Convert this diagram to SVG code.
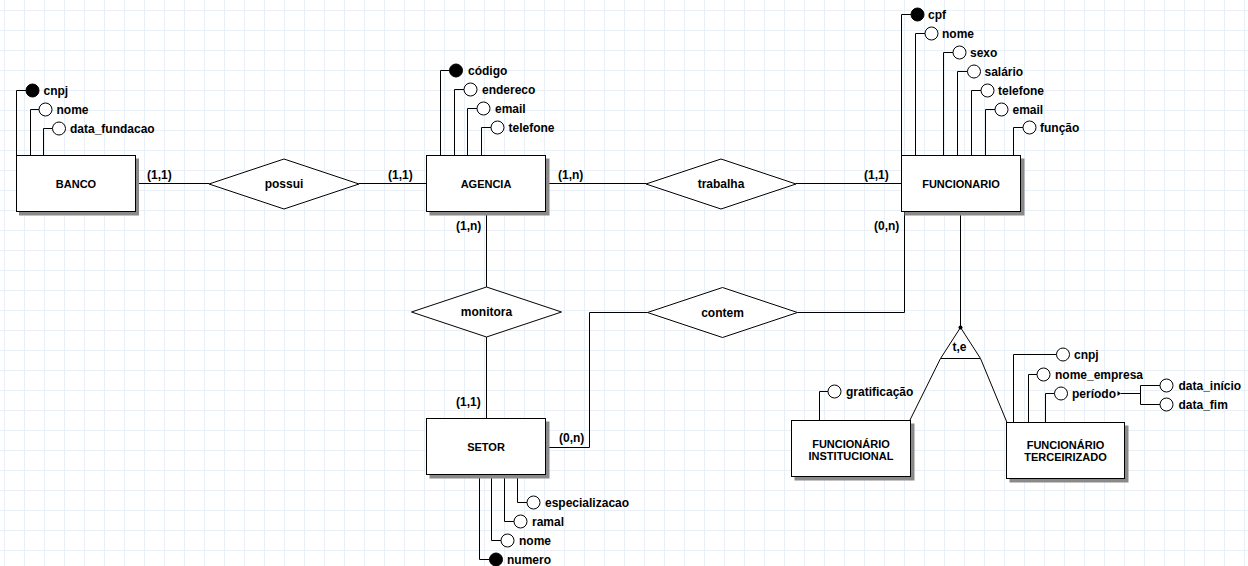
<svg xmlns="http://www.w3.org/2000/svg" width="1248" height="566" viewBox="0 0 1248 566">
  <style>
    .ent { fill: #ffffff; stroke: #000000; stroke-width: 1; }
    .shadow { fill: #8a8a8a; }
    .rel { fill: #ffffff; stroke: #000000; stroke-width: 1; }
    .ln { fill: none; stroke: #000000; stroke-width: 1; }
    .att { fill: #ffffff; stroke: #000000; stroke-width: 1; }
    .key { fill: #000000; stroke: #000000; stroke-width: 1; }
    text { font-family: "Liberation Sans", Arial, sans-serif; font-weight: bold; fill: #000000; }
    .t12 { font-size: 12px; }
    .t11 { font-size: 11px; }
    .mid { text-anchor: middle; }
  </style>
  <defs>
    <pattern id="grid" patternUnits="userSpaceOnUse" x="4" y="10" width="20" height="20">
      <rect x="0" y="0" width="20" height="1" fill="#e8eff7"/>
      <rect x="0" y="0" width="1" height="20" fill="#e8eff7"/>
    </pattern>
  </defs>

  <rect x="0" y="0" width="1248" height="566" fill="#ffffff"/>
  <rect x="0" y="0" width="1248" height="566" fill="url(#grid)"/>

  <!-- relationship and specialization connectors -->
  <g id="connectors">
    <path class="ln" d="M135.5 183.5 H209"/>
    <path class="ln" d="M359 183.5 H426.5"/>
    <path class="ln" d="M545.5 183.5 H646"/>
    <path class="ln" d="M796 183.5 H901.5"/>
    <path class="ln" d="M486.5 211.5 V287"/>
    <path class="ln" d="M486.5 337 V418.5"/>
    <path class="ln" d="M545.5 447.5 H589.5 V312.5 H647.5"/>
    <path class="ln" d="M797.5 312.5 H904.5 V211.5"/>
    <path class="ln" d="M960.5 211.5 V327.5"/>
    <path class="ln" d="M940.5 358.5 L909.5 421"/>
    <path class="ln" d="M980.5 358.5 L1007 422.5"/>
    <text class="t12" x="147" y="179">(1,1)</text>
    <text class="t12" x="388" y="179">(1,1)</text>
    <text class="t12" x="558" y="179">(1,n)</text>
    <text class="t12" x="864" y="179">(1,1)</text>
    <text class="t12" x="456" y="230">(1,n)</text>
    <text class="t12" x="456" y="405.5">(1,1)</text>
    <text class="t12" x="559" y="441.5">(0,n)</text>
    <text class="t12" x="874" y="230">(0,n)</text>
  </g>

  <!-- BANCO -->
  <g id="banco">
    <path class="ln" d="M16.5 155.5 V90.5 H26"/>
    <circle class="key" cx="32.5" cy="90.5" r="6.5"/>
    <text class="t12" x="43.5" y="94.5">cnpj</text>
    <path class="ln" d="M30.5 155.5 V109.5 H39"/>
    <circle class="att" cx="45.5" cy="109.5" r="6.5"/>
    <text class="t12" x="56.5" y="113.5">nome</text>
    <path class="ln" d="M43.5 155.5 V128.5 H52.5"/>
    <circle class="att" cx="59" cy="128.5" r="6.5"/>
    <text class="t12" x="70" y="132.5">data_fundacao</text>
    <rect class="shadow" x="19" y="158.5" width="120" height="57"/>
    <rect class="ent" x="16.5" y="155.5" width="119" height="56"/>
    <text class="t11 mid" x="76" y="187.5">BANCO</text>
  </g>

  <!-- possui -->
  <g id="possui">
    <polygon class="rel" points="209,184 284,159 359,184 284,209"/>
    <text class="t12 mid" x="284" y="188">possui</text>
  </g>

  <!-- AGENCIA -->
  <g id="agencia">
    <path class="ln" d="M440.5 155.5 V70.5 H449.5"/>
    <circle class="key" cx="456" cy="70.5" r="6.5"/>
    <text class="t12" x="468" y="74.5">código</text>
    <path class="ln" d="M454.5 155.5 V89.5 H464"/>
    <circle class="att" cx="470.5" cy="89.5" r="6.5"/>
    <text class="t12" x="482" y="93.5">endereco</text>
    <path class="ln" d="M467.5 155.5 V108.5 H477"/>
    <circle class="att" cx="483.5" cy="108.5" r="6.5"/>
    <text class="t12" x="495" y="112.5">email</text>
    <path class="ln" d="M481.5 155.5 V127.5 H491"/>
    <circle class="att" cx="497.5" cy="127.5" r="6.5"/>
    <text class="t12" x="508.5" y="131.5">telefone</text>
    <rect class="shadow" x="429.5" y="158.5" width="120" height="57"/>
    <rect class="ent" x="426.5" y="155.5" width="119" height="56"/>
    <text class="t11 mid" x="486" y="187.5">AGENCIA</text>
  </g>

  <!-- trabalha -->
  <g id="trabalha">
    <polygon class="rel" points="646,184 721,159 796,184 721,209"/>
    <text class="t12 mid" x="721" y="188">trabalha</text>
  </g>

  <!-- FUNCIONARIO -->
  <g id="funcionario">
    <path class="ln" d="M901.5 155.5 V14.5 H911"/>
    <circle class="key" cx="917.5" cy="14.5" r="6.5"/>
    <text class="t12" x="928" y="18.5">cpf</text>
    <path class="ln" d="M915.5 155.5 V33.5 H925"/>
    <circle class="att" cx="931.5" cy="33.5" r="6.5"/>
    <text class="t12" x="942" y="37.5">nome</text>
    <path class="ln" d="M943.5 155.5 V52.5 H953"/>
    <circle class="att" cx="959.5" cy="52.5" r="6.5"/>
    <text class="t12" x="970" y="56.5">sexo</text>
    <path class="ln" d="M957.5 155.5 V71.5 H967.5"/>
    <circle class="att" cx="974" cy="71.5" r="6.5"/>
    <text class="t12" x="984.5" y="75.5">salário</text>
    <path class="ln" d="M971.5 155.5 V90.5 H981"/>
    <circle class="att" cx="987.5" cy="90.5" r="6.5"/>
    <text class="t12" x="998" y="94.5">telefone</text>
    <path class="ln" d="M985.5 155.5 V109.5 H995"/>
    <circle class="att" cx="1001.5" cy="109.5" r="6.5"/>
    <text class="t12" x="1012.5" y="113.5">email</text>
    <path class="ln" d="M1013.5 155.5 V127.5 H1023"/>
    <circle class="att" cx="1029.5" cy="127.5" r="6.5"/>
    <text class="t12" x="1040" y="131.5">função</text>
    <rect class="shadow" x="904.5" y="158.5" width="120" height="57"/>
    <rect class="ent" x="901.5" y="155.5" width="119" height="56"/>
    <text class="t11 mid" x="961" y="187.5">FUNCIONARIO</text>
  </g>

  <!-- monitora -->
  <g id="monitora">
    <polygon class="rel" points="411.5,312 486.5,287 561.5,312 486.5,337"/>
    <text class="t12 mid" x="486.5" y="316">monitora</text>
  </g>

  <!-- contem -->
  <g id="contem">
    <polygon class="rel" points="647.5,312.5 722.5,287.5 797.5,312.5 722.5,337.5"/>
    <text class="t12 mid" x="722.5" y="316.5">contem</text>
  </g>

  <!-- SETOR -->
  <g id="setor">
    <path class="ln" d="M479.5 474.5 V559.5 H489.5"/>
    <circle class="key" cx="496" cy="559.5" r="6.5"/>
    <text class="t12" x="507" y="563.5">numero</text>
    <path class="ln" d="M491.5 474.5 V540.5 H501"/>
    <circle class="att" cx="507.5" cy="540.5" r="6.5"/>
    <text class="t12" x="519" y="544.5">nome</text>
    <path class="ln" d="M504.5 474.5 V521.5 H514"/>
    <circle class="att" cx="520.5" cy="521.5" r="6.5"/>
    <text class="t12" x="532" y="525.5">ramal</text>
    <path class="ln" d="M517.5 474.5 V502.5 H527"/>
    <circle class="att" cx="533.5" cy="502.5" r="6.5"/>
    <text class="t12" x="545" y="506.5">especializacao</text>
    <rect class="shadow" x="429.5" y="421.5" width="120" height="57"/>
    <rect class="ent" x="426.5" y="418.5" width="119" height="56"/>
    <text class="t11 mid" x="486" y="450.5">SETOR</text>
  </g>

  <!-- specialization of FUNCIONARIO -->
  <g id="especializacao">
    <polygon class="rel" points="960.5,327.5 940.5,358.5 980.5,358.5"/>
    <circle cx="960.5" cy="327.5" r="2" fill="#000000"/>
    <text class="t12 mid" x="959.5" y="350.5">t,e</text>
  </g>

  <!-- FUNCIONÁRIO INSTITUCIONAL -->
  <g id="funcionario-institucional">
    <path class="ln" d="M819.5 420.5 V391.5 H828"/>
    <circle class="att" cx="834.5" cy="391.5" r="6.5"/>
    <text class="t12" x="846" y="395.5">gratificação</text>
    <rect class="shadow" x="794.5" y="423.5" width="120" height="57"/>
    <rect class="ent" x="791.5" y="420.5" width="119" height="56"/>
    <text class="t11 mid" x="851" y="447.5">FUNCIONÁRIO</text>
    <text class="t11 mid" x="851" y="459.5">INSTITUCIONAL</text>
  </g>

  <!-- FUNCIONÁRIO TERCEIRIZADO -->
  <g id="funcionario-terceirizado">
    <path class="ln" d="M1013.5 422.5 V354.5 H1056.5"/>
    <circle class="att" cx="1063" cy="354.5" r="6.5"/>
    <text class="t12" x="1074" y="358.5">cnpj</text>
    <path class="ln" d="M1028.5 422.5 V374.5 H1037"/>
    <circle class="att" cx="1043.5" cy="374.5" r="6.5"/>
    <text class="t12" x="1055" y="378.5">nome_empresa</text>
    <path class="ln" d="M1045.5 422.5 V393.5 H1054.5"/>
    <circle class="att" cx="1061" cy="393.5" r="6.5"/>
    <text class="t12" x="1072" y="397.5">período</text>
    <polygon points="1117.5,391 1121,393.5 1117.5,396" fill="#000000"/>
    <path class="ln" d="M1121 393.5 H1140.5 M1140.5 385.5 V404.5 M1140.5 385.5 H1160 M1140.5 404.5 H1160"/>
    <circle class="att" cx="1166.5" cy="385.5" r="6.5"/>
    <text class="t12" x="1178.5" y="389.5">data_início</text>
    <circle class="att" cx="1166.5" cy="404.5" r="6.5"/>
    <text class="t12" x="1178.5" y="408.5">data_fim</text>
    <rect class="shadow" x="1009.5" y="425.5" width="119" height="57"/>
    <rect class="ent" x="1006.5" y="422.5" width="118" height="56"/>
    <text class="t11 mid" x="1065.5" y="449">FUNCIONÁRIO</text>
    <text class="t11 mid" x="1065.5" y="461">TERCEIRIZADO</text>
  </g>
</svg>
